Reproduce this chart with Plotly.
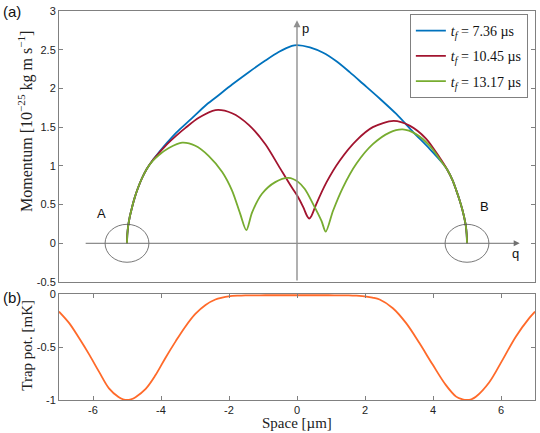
import plotly.graph_objects as go
from plotly.subplots import make_subplots

# phase-space trajectories (q in um, p in 1e-25 kg m/s)
q_736 = [-5.0, -4.99, -4.96, -4.92, -4.86, -4.78, -4.68, -4.56, -4.42, -4.25, -4.05, -3.82, -3.55,
         -3.28, -3.08, -2.69, -2.40, -1.91, -1.42, -0.93, -0.54, -0.15, 0.0, 0.38, 0.77, 1.16,
         1.55, 1.94, 2.43, 2.92, 3.41, 3.90, 4.29, 4.42, 4.58, 4.68, 4.78, 4.86, 4.92, 4.96, 4.99, 5.0]
p_736 = [0, 0.12, 0.24, 0.34, 0.45, 0.58, 0.71, 0.84, 0.96, 1.07, 1.18, 1.30, 1.43,
         1.54, 1.62, 1.78, 1.88, 2.05, 2.21, 2.36, 2.47, 2.55, 2.56, 2.53, 2.46, 2.35,
         2.21, 2.06, 1.87, 1.67, 1.44, 1.22, 1.03, 0.95, 0.81, 0.69, 0.56, 0.44, 0.33, 0.24, 0.12, 0]

q_1045 = [-5.0, -4.99, -4.96, -4.92, -4.86, -4.78, -4.68, -4.56, -4.42, -4.25, -4.05, -3.82, -3.55,
          -3.28, -2.89, -2.40, -1.91, -1.42, -0.93, -0.54, -0.15, 0.0, 0.18, 0.30, 0.36, 0.42,
          0.57, 0.87, 1.26, 1.75, 2.23, 2.84, 3.31, 3.80, 4.19, 4.42, 4.58, 4.68, 4.78, 4.86,
          4.92, 4.96, 4.99, 5.0]
p_1045 = [0, 0.12, 0.24, 0.34, 0.45, 0.58, 0.71, 0.84, 0.96, 1.07, 1.17, 1.28, 1.39,
          1.49, 1.62, 1.72, 1.68, 1.53, 1.28, 1.00, 0.72, 0.62, 0.47, 0.35, 0.32, 0.35,
          0.51, 0.79, 1.07, 1.33, 1.50, 1.58, 1.52, 1.35, 1.11, 0.95, 0.81, 0.69, 0.56, 0.44,
          0.33, 0.24, 0.12, 0]

q_1317 = [-5.0, -4.99, -4.96, -4.92, -4.86, -4.78, -4.68, -4.56, -4.42, -4.25, -4.06, -3.77, -3.38,
          -2.99, -2.60, -2.20, -1.91, -1.67, -1.49, -1.32, -1.03, -0.64, -0.25, 0.04, 0.23, 0.47,
          0.72, 0.845, 1.06, 1.35, 1.75, 2.23, 2.72, 3.11, 3.50, 3.90, 4.29, 4.42, 4.58, 4.68,
          4.78, 4.86, 4.92, 4.96, 4.99, 5.0]
p_1317 = [0, 0.12, 0.24, 0.34, 0.45, 0.58, 0.71, 0.84, 0.96, 1.06, 1.14, 1.23, 1.30,
          1.26, 1.13, 0.92, 0.68, 0.38, 0.17, 0.40, 0.64, 0.79, 0.845, 0.79, 0.70, 0.51,
          0.29, 0.15, 0.42, 0.72, 1.03, 1.28, 1.43, 1.47, 1.41, 1.26, 1.03, 0.95, 0.81, 0.69,
          0.56, 0.44, 0.33, 0.24, 0.12, 0]

# trap potential (mK) vs space (um)
space = [-7.0, -6.70, -6.41, -6.11, -5.82, -5.53, -5.25, -5.12, -5.0, -4.88, -4.75, -4.45, -4.16,
         -3.87, -3.57, -3.28, -2.99, -2.69, -2.40, -2.20, -2.01, -1.75, -1.52, -0.93, 0.0, 0.93,
         1.52, 1.75, 2.04, 2.22, 2.43, 2.82, 3.21, 3.60, 3.99, 4.38, 4.68, 4.86, 5.0, 5.13,
         5.26, 5.65, 6.05, 6.44, 6.83, 7.0]
trap = [-0.166, -0.275, -0.416, -0.572, -0.735, -0.89, -0.972, -0.993, -1.0, -0.993, -0.973, -0.895, -0.765,
        -0.603, -0.447, -0.306, -0.188, -0.103, -0.052, -0.034, -0.023, -0.016, -0.013, -0.012, -0.012, -0.012,
        -0.013, -0.016, -0.024, -0.034, -0.052, -0.134, -0.275, -0.463, -0.666, -0.86, -0.968, -0.993, -1.0, -0.993,
        -0.97, -0.835, -0.619, -0.40, -0.228, -0.166]

names = ["<i>t<sub>f</sub></i> = 7.36 µs", "<i>t<sub>f</sub></i> = 10.45 µs", "<i>t<sub>f</sub></i> = 13.17 µs"]
colors = ["#0072BD", "#A2142F", "#77AC30"]

SERIF = "Liberation Serif"
SANS = "Liberation Sans"
AX = "#808080"

fig = make_subplots(rows=2, cols=1, row_heights=[271, 106], vertical_spacing=12 / 389)

for i, (q, p) in enumerate([(q_736, p_736), (q_1045, p_1045), (q_1317, p_1317)]):
    fig.add_trace(go.Scatter(
        x=q, y=p, mode="lines", name=names[i], legendgroup=str(i),
        line=dict(color=colors[i], width=1.8, shape="spline", smoothing=0.8)
    ), row=1, col=1)

fig.add_trace(go.Scatter(
    x=space, y=trap, mode="lines", showlegend=False,
    line=dict(color="#FF6A2A", width=1.8, shape="spline", smoothing=1.0)
), row=2, col=1)

# phase-space axes with arrows
fig.add_annotation(x=6.55, y=0, ax=-6.26, ay=0, xref="x", yref="y", axref="x", ayref="y",
                   text="", showarrow=True, arrowhead=2, arrowsize=1.2, arrowwidth=1, arrowcolor="#707070")
fig.add_annotation(x=0, y=2.88, ax=0, ay=-0.5, xref="x", yref="y", axref="x", ayref="y",
                   text="", showarrow=True, arrowhead=2, arrowsize=1, arrowwidth=1.4, arrowcolor="#909090")

# circles around turning points
for cx in (-5, 5):
    fig.add_shape(type="circle", xref="x", yref="y", x0=cx - 0.645, x1=cx + 0.645,
                  y0=-0.245, y1=0.245, line=dict(color="#555555", width=0.8))

labels = [("A", -5.76, 0.39), ("B", 5.50, 0.48), ("q", 6.42, -0.13), ("p", 0.26, 2.77)]
for t, x, y in labels:
    fig.add_annotation(x=x, y=y, xref="x", yref="y", text=t, showarrow=False,
                       font=dict(family=SANS, size=13, color="#111"))

# panel tags and axis titles
fig.add_annotation(x=-0.122, y=1.026, xref="paper", yref="paper", text="(a)", showarrow=False,
                   xanchor="left", yanchor="top", font=dict(family=SANS, size=15, color="#111"))
fig.add_annotation(x=-0.122, y=0.29, xref="paper", yref="paper", text="(b)", showarrow=False,
                   xanchor="left", yanchor="top", font=dict(family=SANS, size=15, color="#111"))
fig.add_annotation(x=-0.069, y=0.715, xref="paper", yref="paper", textangle=-90, showarrow=False,
                   xanchor="center", yanchor="middle",
                   text="Momentum [10<sup>−25</sup> kg m s<sup>−1</sup>]",
                   font=dict(family=SERIF, size=16, color="#222"))
fig.add_annotation(x=-0.069, y=0.14, xref="paper", yref="paper", textangle=-90, showarrow=False,
                   xanchor="center", yanchor="middle",
                   text="Trap pot. [mK]", font=dict(family=SERIF, size=15, color="#222"))
fig.add_annotation(x=0.5, y=-0.059, xref="paper", yref="paper", showarrow=False,
                   xanchor="center", yanchor="middle",
                   text="Space [µm]", font=dict(family=SERIF, size=15, color="#222"))

axis_common = dict(showline=True, linecolor=AX, linewidth=1, showgrid=False, zeroline=False,
                   tickcolor=AX, ticklen=4, tickfont=dict(family=SANS, size=11, color="#222"))

fig.update_xaxes(range=[-7, 7], mirror=True, ticks="", showticklabels=False, row=1, col=1, **axis_common)
fig.update_yaxes(range=[-0.5, 3], tickvals=[-0.5, 0, 0.5, 1, 1.5, 2, 2.5, 3],
                 ticktext=["-0.5", "0", "0.5", "1", "1.5", "2", "2.5", "3"],
                 ticks="inside", mirror="ticks", row=1, col=1, **axis_common)
fig.update_xaxes(range=[-7, 7], tickvals=[-6, -4, -2, 0, 2, 4, 6],
                 ticktext=["-6", "-4", "-2", "0", "2", "4", "6"],
                 ticks="inside", mirror="ticks", row=2, col=1, **axis_common)
fig.update_yaxes(range=[-1, 0], tickvals=[-1, -0.5, 0], ticktext=["-1", "-0.5", "0"],
                 ticks="inside", mirror="ticks", row=2, col=1, **axis_common)

fig.update_layout(
    width=540, height=433,
    margin=dict(l=59, r=5, t=11, b=33),
    plot_bgcolor="white", paper_bgcolor="white",
    legend=dict(x=0.985, y=0.992, xanchor="right", yanchor="top",
                bgcolor="white", bordercolor=AX, borderwidth=1,
                tracegroupgap=4, font=dict(family=SERIF, size=14, color="#111")),
)

fig.write_html("out.html", config={"displayModeBar": False},
               post_script="document.body.style.margin='0';")
